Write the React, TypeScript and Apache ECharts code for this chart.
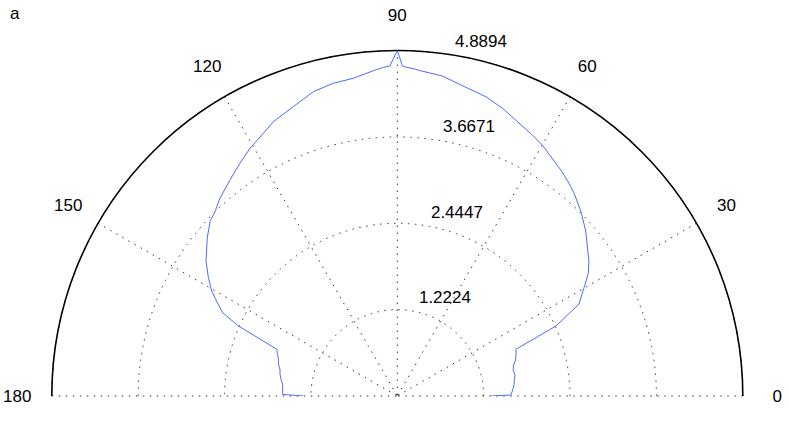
import React, { useEffect, useRef } from "react";
import * as echarts from "echarts";

// polar curve: [angle (deg), radius]
const angles = [
  0, 0.5, 2.5, 5.4, 7.5, 10.1, 12.5, 14.9, 17.0, 19.1, 21.5, 23.8, 26.8, 30.1, 32.8, 35.2, 41.2, 45.2, 48.9, 51.1,
  54.1, 60.0, 62.6, 66.8, 69.9, 73.5, 77.5, 82.0, 85.9, 86.8, 88.8, 89.1, 90, 91.3, 92.4, 94.2, 97.9, 101.6,
  105.4, 109.8, 114.3, 117.0, 120.7, 124.1, 127.8, 131.9, 134.7, 136.9, 140.2, 144.8, 147.9, 150.5, 152.3,
  154.5, 156.2, 158.8, 160.5, 162.2, 165.0, 167.5, 169.5, 172.0, 174.2, 177.0, 179.2, 180,
];
const radii = [
  1.322, 1.605, 1.63, 1.659, 1.67, 1.692, 1.68, 1.702, 1.75, 1.777, 1.805, 2.451, 2.88, 3.054, 3.217, 3.318,
  3.544, 3.687, 3.806, 3.869, 3.947, 4.102, 4.158, 4.25, 4.335, 4.417, 4.475, 4.573, 4.615, 4.631, 4.662, 4.67,
  4.8894, 4.672, 4.656, 4.616, 4.539, 4.517, 4.468, 4.351, 4.26, 4.174, 4.079, 3.975, 3.866, 3.759, 3.668,
  3.627, 3.5, 3.313, 3.156, 3.018, 2.888, 2.738, 2.459, 1.83, 1.80, 1.769, 1.74, 1.70, 1.688, 1.66, 1.63, 1.625,
  1.622, 1.33,
];

const rMax = 4.8894;
const ringLabels = ["1.2224", "2.4447", "3.6671", "4.8894"];
const angleLabels = ["0", "30", "60", "90", "120", "150", "180"];
const angleTicks = [0, 30, 60, 90, 120, 150, 180];
const panelLabel = "a";

export default function App() {
  const ref = useRef<HTMLDivElement>(null);
  useEffect(() => {
    if (!ref.current) return;
    const chart = echarts.init(ref.current, undefined, { renderer: "svg" });
    const font = "Liberation Sans, Arial, Helvetica, sans-serif";
    const dotted = { type: [1.5, 5.5] as any, color: "#333", width: 1 };
    chart.setOption({
      animation: false,
      backgroundColor: "#fff",
      polar: { center: [397.3, 396], radius: 345.5 },
      angleAxis: {
        type: "value",
        min: 0,
        max: 180,
        interval: 30,
        startAngle: 0,
        endAngle: 180,
        clockwise: false,
        axisLine: { show: true, lineStyle: { color: "#000", width: 1.6 } },
        axisTick: { show: false },
        axisLabel: { show: false },
        splitLine: { show: true, lineStyle: dotted },
      },
      radiusAxis: {
        type: "value",
        min: 0,
        max: rMax,
        interval: rMax / 4,
        axisLine: { show: false },
        axisTick: { show: false },
        axisLabel: { show: false },
        splitLine: { show: true, lineStyle: dotted },
      },
      series: [
        {
          type: "line",
          coordinateSystem: "polar",
          data: angles.map((a, i) => [radii[i], a]),
          showSymbol: false,
          symbol: "none",
          lineStyle: { color: "#4d6bfe", width: 1 },
          z: 5,
        },
      ],
    });

    const graphics: any[] = [];
    angleTicks.forEach((a, i) => {
      const p = chart.convertToPixel({ polarIndex: 0 } as any, [rMax * 1.1, a]) as number[];
      graphics.push({
        type: "text",
        x: p[0],
        y: p[1],
        style: {
          text: angleLabels[i],
          align: "center",
          verticalAlign: "middle",
          font: `17px ${font}`,
          fill: "#000",
        },
      });
    });
    ringLabels.forEach((t, i) => {
      const r = (rMax / 4) * (i + 1) + rMax / 4 / 20;
      const p = chart.convertToPixel({ polarIndex: 0 } as any, [r, 82]) as number[];
      graphics.push({
        type: "text",
        x: p[0] + 9,
        y: p[1],
        style: {
          text: t,
          align: "left",
          verticalAlign: "bottom",
          font: `17px ${font}`,
          fill: "#000",
        },
      });
    });
    graphics.push({
      type: "text",
      left: 10,
      top: 5,
      style: { text: panelLabel, font: `17px ${font}`, fill: "#000" },
    });
    chart.setOption({ graphic: graphics });

    return () => chart.dispose();
  }, []);
  return (
    <div
      ref={ref}
      style={{ position: "fixed", left: 0, top: 0, width: 789, height: 423, background: "#fff" }}
    />
  );
}
